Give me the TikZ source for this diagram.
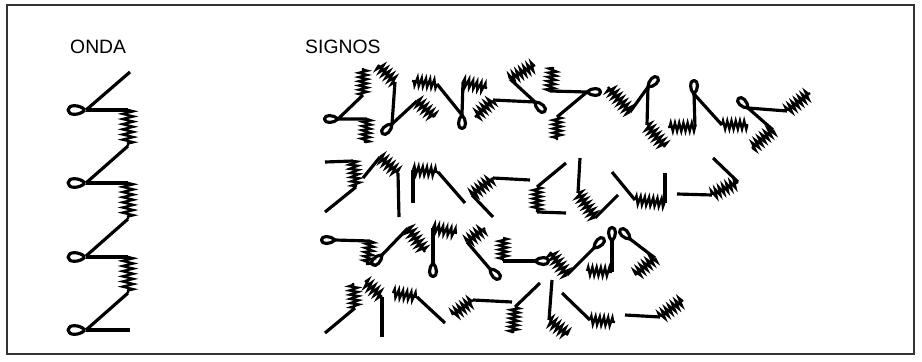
\documentclass[tikz,border=0pt]{standalone}
\usepackage{fontspec}
\setmainfont{Liberation Sans}
\usepackage{tikz}
\usetikzlibrary{decorations.pathmorphing}

% loop at a junction: [size], x, y, rotation (0 = pointing left)
\newcommand{\lazo}[4][0.8]{%
  \draw[trazo, shift={(#2,#3)}, rotate=#4, scale=#1]
    (0,0) .. controls (-5,5.5) and (-17,6) .. (-17,0)
          .. controls (-17,-6) and (-5,-5.5) .. (0,0);}

\begin{document}
\begin{tikzpicture}[
    x=0.03cm, y=-0.03cm,
    trazo/.style={line width=2.7pt, line join=round},
    resorte/.style={line width=2pt, decorate,
                    decoration={zigzag, segment length=3.6pt, amplitude=3.6pt}},
    ondares/.style={resorte, decoration={zigzag, segment length=4.4pt, amplitude=4.6pt}},
    titulo/.style={font=\fontsize{16.5}{19}\selectfont, anchor=west, inner sep=0pt},
  ]
    \useasboundingbox (0,0) rectangle (922,361);
    \draw[line width=0.9pt, black!80] (7,5) rectangle (914,354);

    \node[titulo] (onda) at (70,47) {ONDA};
    \node[titulo] (signos) at (305,47) {SIGNOS};

    % onda
    \draw[trazo] (130,72) -- (86,110);
    \foreach \y in {110,183,257} {
      \draw[trazo] (86,\y) -- (128,\y);
      \draw[ondares] (128,\y) -- (128,\y+36);
      \draw[trazo] (128,\y+36) -- (86,\y+73);
      \lazo[1]{85}{\y}{0}
    }
    \draw[trazo] (86,330) -- (130,330);
    \lazo[1]{85}{330}{0}

    % signos, fila 1
    \draw[trazo] (363,95) -- (338,119) -- (367,119);
    \draw[resorte] (363,95) -- (363,68);
    \draw[resorte] (367,119) -- (365,143);
    \lazo{338}{119}{0}

    \draw[trazo] (395,82) -- (392,124) -- (417,101);
    \draw[resorte] (395,82) -- (378,65);
    \draw[resorte] (417,101) -- (434,117);
    \lazo{392}{124}{45}

    \draw[trazo] (437,84) -- (462,115) -- (463,82);
    \draw[resorte] (437,84) -- (412,81);
    \draw[resorte] (463,82) -- (487,88);
    \lazo{462}{115}{90}

    \draw[trazo] (493,100) -- (535,102) -- (510,79);
    \draw[resorte] (493,100) -- (475,117);
    \draw[resorte] (510,79) -- (535,65);
    \lazo{535}{102}{135}

    \draw[trazo] (550,91) -- (587,92) -- (557,117);
    \draw[resorte] (550,91) -- (553,67);
    \draw[resorte] (557,117) -- (557,140);
    \lazo{587}{92}{180}

    \draw[trazo] (630,112) -- (648,87) -- (647,125);
    \draw[resorte] (630,112) -- (608,87);
    \draw[resorte] (647,125) -- (665,147);
    \lazo{648}{87}{-135}

    \draw[trazo] (695,127) -- (694,94) -- (722,125);
    \draw[resorte] (695,127) -- (668,127);
    \draw[resorte] (722,125) -- (748,125);
    \lazo{694}{94}{-90}

    \draw[trazo] (787,111) -- (748,108) -- (773,130);
    \draw[resorte] (787,111) -- (810,93);
    \draw[resorte] (773,130) -- (752,148);
    \lazo{748}{108}{-45}

    % signos, fila 2
    \draw[trazo] (325,162) -- (353,161);
    \draw[resorte] (353,161) -- (356,187);
    \draw[trazo] (356,187) -- (325,212);

    \draw[trazo] (363,178) -- (380,157);
    \draw[resorte] (380,157) -- (398,173);
    \draw[trazo] (398,173) -- (399,217);

    \draw[trazo] (413,203) -- (413,170);
    \draw[resorte] (413,170) -- (438,172);
    \draw[trazo] (438,172) -- (465,203);

    \draw[resorte] (472,195) -- (493,178);
    \draw[trazo] (493,178) -- (530,180);
    \draw[trazo] (472,195) -- (493,217);

    \draw[trazo] (566,163) -- (537,187);
    \draw[resorte] (537,187) -- (537,212);
    \draw[trazo] (537,212) -- (566,213);

    \draw[trazo] (580,158) -- (578,193);
    \draw[resorte] (578,193) -- (595,218);
    \draw[trazo] (595,218) -- (618,195);

    \draw[trazo] (612,172) -- (635,200);
    \draw[resorte] (635,200) -- (665,203);
    \draw[trazo] (665,203) -- (665,173);

    \draw[trazo] (677,194) -- (712,195);
    \draw[resorte] (712,195) -- (738,182);
    \draw[trazo] (738,182) -- (713,158);

    % signos, fila 3
    \draw[trazo] (335,240) -- (370,241);
    \draw[resorte] (370,241) -- (367,265);
    \lazo{335}{240}{0}

    \draw[trazo] (382,255) -- (408,228);
    \draw[resorte] (408,228) -- (425,252);
    \lazo{382}{255}{45}

    \draw[trazo] (433,263) -- (433,228);
    \draw[resorte] (433,228) -- (457,233);
    \lazo{433}{263}{90}

    \draw[resorte] (467,242) -- (485,228);
    \draw[trazo] (467,242) -- (490,269);
    \lazo{490}{269}{135}

    \draw[resorte] (503,238) -- (503,261);
    \draw[trazo] (503,261) -- (535,261);
    \lazo{535}{261}{180}

    \draw[resorte] (567,275) -- (550,252);
    \draw[trazo] (567,275) -- (594,248);
    \lazo{594}{248}{-135}

    \draw[resorte] (587,271) -- (612,272);
    \draw[trazo] (612,272) -- (612,241);
    \lazo{612}{241}{-90}

    \draw[trazo] (630,239) -- (655,258);
    \draw[resorte] (655,258) -- (635,275);
    \lazo{630}{239}{-45}

    % signos, fila 4
    \draw[trazo] (325,333) -- (355,308);
    \draw[resorte] (355,308) -- (353,283);

    \draw[resorte] (365,282) -- (382,297);
    \draw[trazo] (382,297) -- (382,337);

    \draw[resorte] (393,293) -- (417,297);
    \draw[trazo] (417,297) -- (445,323);

    \draw[resorte] (453,315) -- (473,300);
    \draw[trazo] (473,300) -- (512,302);

    \draw[trazo] (540,283) -- (515,307);
    \draw[resorte] (515,307) -- (513,333);

    \draw[trazo] (552,280) -- (549,320);
    \draw[resorte] (549,320) -- (568,335);

    \draw[trazo] (562,293) -- (590,320);
    \draw[resorte] (590,320) -- (615,322);

    \draw[trazo] (625,315) -- (660,317);
    \draw[resorte] (660,317) -- (683,300);
  \end{tikzpicture}
\end{document}
